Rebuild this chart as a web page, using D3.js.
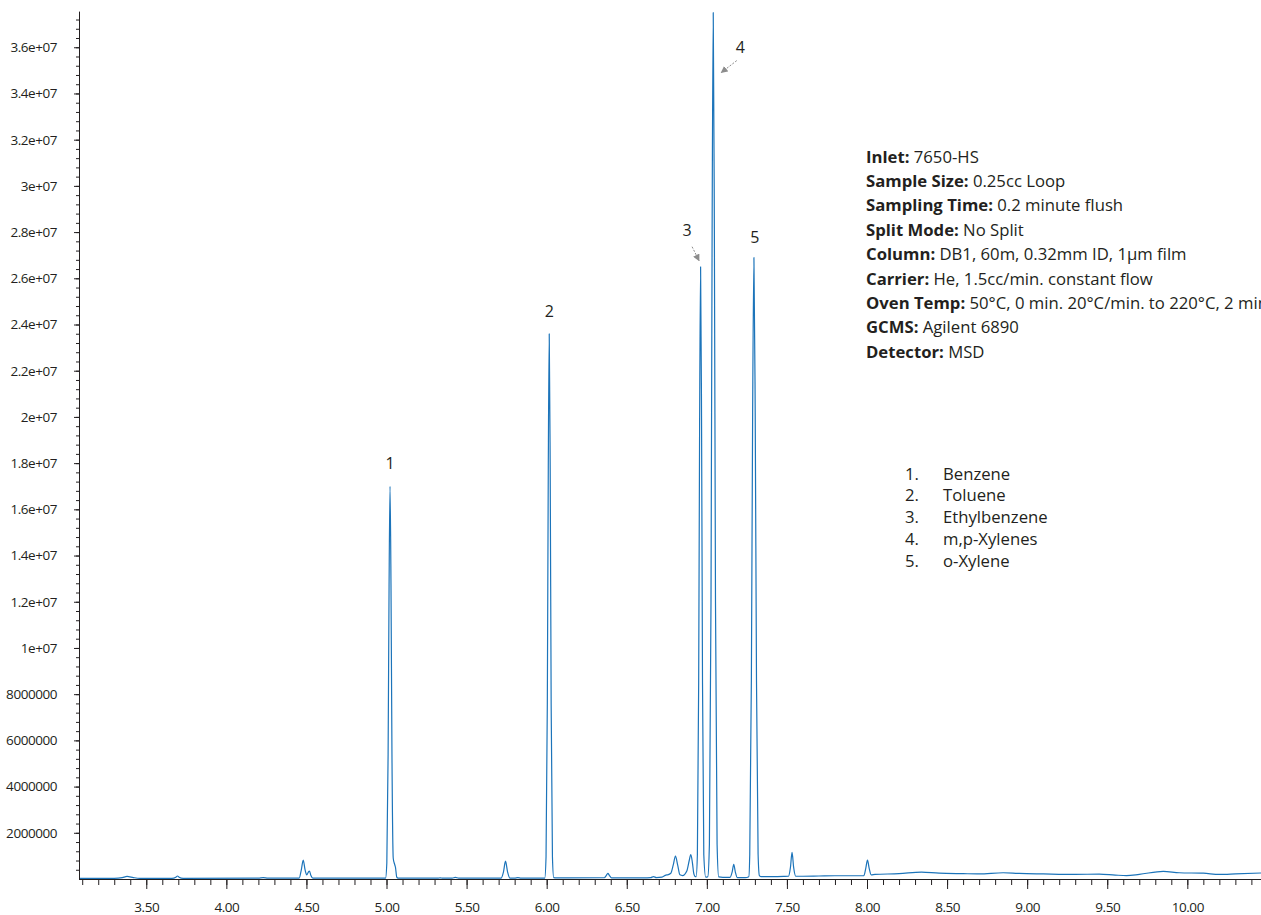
<!DOCTYPE html>
<html>
<head>
<meta charset="utf-8">
<script src="https://cdn.jsdelivr.net/npm/d3@7"></script>
<style>
  html, body { margin: 0; padding: 0; background: #ffffff; }
  svg { display: block; }
  .tick text { font-family: "Open Sans", sans-serif; }
</style>
</head>
<body>
<svg id="chart" width="1261" height="915"></svg>
<script>
// Total ion chromatogram: retention time (min) against abundance (counts)
const traceTime = [
  3.08, 3.30, 3.35, 3.38, 3.42, 3.46, 3.66, 3.685, 3.695, 3.705, 3.73,
  4.20, 4.23, 4.26, 4.455, 4.468, 4.48, 4.492, 4.502, 4.512, 4.519, 4.528, 4.54,
  4.994, 5.002, 5.010, 5.016, 5.022, 5.028, 5.034, 5.042, 5.050, 5.056, 5.064, 5.072,
  5.32, 5.335, 5.35, 5.41, 5.43, 5.45, 5.715, 5.73, 5.743, 5.756, 5.77,
  5.80, 5.82, 5.84,
  5.988, 5.996, 6.004, 6.010, 6.016, 6.022, 6.028, 6.036, 6.044, 6.06,
  6.36, 6.372, 6.382, 6.392, 6.405, 6.45, 6.60, 6.65, 6.667, 6.685, 6.72, 6.745, 6.755,
  6.775, 6.79, 6.804, 6.818, 6.832, 6.848, 6.875, 6.89, 6.90, 6.91, 6.918, 6.925,
  6.933, 6.941, 6.949, 6.955, 6.961, 6.967, 6.973, 6.981, 6.993,
  7.006, 7.016, 7.026, 7.033, 7.040, 7.047, 7.054, 7.064, 7.074, 7.10,
  7.145, 7.158, 7.168, 7.178, 7.19, 7.24, 7.262,
  7.268, 7.278, 7.286, 7.294, 7.302, 7.310, 7.320, 7.328, 7.34,
  7.40, 7.48, 7.51, 7.522, 7.532, 7.542, 7.555, 7.60, 7.70, 7.80, 7.95,
  7.98, 7.992, 8.003, 8.014, 8.026, 8.05, 8.20, 8.34, 8.45, 8.60, 8.70, 8.85, 8.95,
  9.10, 9.30, 9.45, 9.55, 9.62, 9.70, 9.85, 9.95, 10.10, 10.20, 10.30, 10.46
];
const traceAbundance = [
  30000, 30000, 60000, 110000, 60000, 30000, 30000, 80000, 130000, 80000, 30000,
  40000, 60000, 35000, 40000, 400000, 820000, 380000, 180000, 300000, 340000, 150000, 35000,
  35000, 700000, 5400000, 12700000, 17000000, 12700000, 5400000, 900000, 650000, 500000, 80000, 35000,
  35000, 50000, 35000, 35000, 70000, 35000, 35000, 300000, 770000, 300000, 40000,
  40000, 60000, 40000,
  35000, 950000, 7550000, 17700000, 23600000, 17700000, 7550000, 950000, 60000, 50000,
  55000, 150000, 240000, 150000, 50000, 45000, 50000, 60000, 100000, 60000, 80000, 170000, 180000,
  250000, 600000, 990000, 600000, 180000, 150000, 350000, 800000, 1060000, 700000, 250000, 120000,
  100000, 1060000, 8480000, 19900000, 26500000, 19900000, 8480000, 1060000, 80000,
  100000, 1500000, 12000000, 28100000, 37500000, 28100000, 12000000, 1500000, 90000, 70000,
  70000, 300000, 630000, 300000, 60000, 60000, 100000,
  1080000, 8600000, 20200000, 26900000, 20200000, 8600000, 1080000, 150000, 100000,
  100000, 110000, 120000, 500000, 1150000, 500000, 120000, 120000, 130000, 140000, 140000,
  140000, 450000, 820000, 450000, 180000, 200000, 230000, 300000, 250000, 230000, 220000, 270000, 240000,
  220000, 200000, 210000, 170000, 150000, 200000, 330000, 270000, 250000, 200000, 220000, 260000
];

// Numbered peaks
const peakIds = ["1", "2", "3", "4", "5"];
const peakTimes = [5.022, 6.016, 6.961, 7.040, 7.294];
const peakHeights = [17000000, 23600000, 26500000, 37500000, 26900000];
const compoundNames = ["Benzene", "Toluene", "Ethylbenzene", "m,p-Xylenes", "o-Xylene"];

// Axis ticks
const xTickValues = [3.5, 4, 4.5, 5, 5.5, 6, 6.5, 7, 7.5, 8, 8.5, 9, 9.5, 10];
const xTickLabels = ["3.50", "4.00", "4.50", "5.00", "5.50", "6.00", "6.50", "7.00", "7.50", "8.00", "8.50", "9.00", "9.50", "10.00"];
const yTickValues = [2e6, 4e6, 6e6, 8e6, 1e7, 1.2e7, 1.4e7, 1.6e7, 1.8e7, 2e7, 2.2e7, 2.4e7, 2.6e7, 2.8e7, 3e7, 3.2e7, 3.4e7, 3.6e7];
const yTickLabels = ["2000000", "4000000", "6000000", "8000000", "1e+07", "1.2e+07", "1.4e+07", "1.6e+07", "1.8e+07", "2e+07", "2.2e+07", "2.4e+07", "2.6e+07", "2.8e+07", "3e+07", "3.2e+07", "3.4e+07", "3.6e+07"];

// Method conditions
const methodKeys = ["Inlet:", "Sample Size:", "Sampling Time:", "Split Mode:", "Column:", "Carrier:", "Oven Temp:", "GCMS:", "Detector:"];
const methodValues = ["7650-HS", "0.25cc Loop", "0.2 minute flush", "No Split", "DB1, 60m, 0.32mm ID, 1\u00b5m film", "He, 1.5cc/min. constant flow", "50\u00b0C, 0 min. 20\u00b0C/min. to 220\u00b0C, 2 min", "Agilent 6890", "MSD"];

const ink = "#231f20";
const traceColor = "#1c74ba";

const svg = d3.select("#chart");
const plotLeft = 79, plotRight = 1261, plotBottom = 879, plotTop = 12.6;

const x = d3.scaleLinear().domain([3.08, 10.46]).range([plotLeft, plotRight]);
const y = d3.scaleLinear().domain([0, 3.75e7]).range([plotBottom, plotTop]);

// Arrowhead for callouts
svg.append("defs").append("marker")
  .attr("id", "arrowhead")
  .attr("viewBox", "0 0 10 10")
  .attr("refX", 9).attr("refY", 5)
  .attr("markerWidth", 7).attr("markerHeight", 7)
  .attr("markerUnits", "userSpaceOnUse")
  .attr("orient", "auto")
  .append("path")
  .attr("d", "M0,0 L10,5 L0,10 z")
  .attr("fill", "#8c8c8c");

svg.append("clipPath").attr("id", "plotClip")
  .append("rect").attr("x", plotLeft).attr("y", 8)
  .attr("width", plotRight - plotLeft).attr("height", plotBottom - 8);

// Chromatogram trace
const points = traceTime.map((t, i) => [t, traceAbundance[i]]);
const line = d3.line()
  .x(d => x(d[0]))
  .y(d => y(d[1]))
  .curve(d3.curveMonotoneX);

svg.append("path")
  .datum(points)
  .attr("clip-path", "url(#plotClip)")
  .attr("fill", "none")
  .attr("stroke", traceColor)
  .attr("stroke-width", 1.2)
  .attr("stroke-linejoin", "round")
  .attr("d", line);

// X axis: major and minor ticks
const xMinor = svg.append("g")
  .attr("transform", `translate(0,${plotBottom})`)
  .call(d3.axisBottom(x)
    .tickValues(d3.range(31, 105).map(v => v / 10))
    .tickSize(6).tickFormat(""));
xMinor.select(".domain").remove();

const xAxis = svg.append("g")
  .attr("transform", `translate(0,${plotBottom})`)
  .call(d3.axisBottom(x)
    .tickValues(xTickValues)
    .tickFormat((d, i) => xTickLabels[i])
    .tickSize(10).tickPadding(13.5).tickSizeOuter(0));
xAxis.select(".domain").attr("d", `M${plotLeft},0.5H${plotRight}`);

// Y axis: major and minor ticks
const yMinor = svg.append("g")
  .attr("transform", `translate(${plotLeft},0)`)
  .call(d3.axisLeft(y)
    .tickValues(d3.range(1, 94).map(v => v * 4e5))
    .tickSize(3).tickFormat(""));
yMinor.select(".domain").remove();

const yAxis = svg.append("g")
  .attr("transform", `translate(${plotLeft},0)`)
  .call(d3.axisLeft(y)
    .tickValues(yTickValues)
    .tickFormat((d, i) => yTickLabels[i])
    .tickSize(5).tickPadding(17).tickSizeOuter(0));
yAxis.select(".domain").attr("d", `M0.5,${plotBottom}V${plotTop - 1}`);

svg.selectAll(".domain, .tick line").attr("stroke", ink).attr("stroke-width", 1);
svg.selectAll(".tick text")
  .attr("fill", ink)
  .style("font-size", "13.5px")
  .style("letter-spacing", "-0.45px");

// Peak numbers
const labelOffsets = [[0, -23], [0, -22], [-13.5, -36], [27, -35], [1, -20]];
const peakLabels = svg.append("g")
  .attr("font-family", "Open Sans, sans-serif")
  .attr("font-size", 16)
  .attr("fill", ink)
  .attr("text-anchor", "middle");
peakIds.forEach((id, i) => {
  const px = x(peakTimes[i]) + labelOffsets[i][0];
  const py = Math.max(y(peakHeights[i]), plotTop) + labelOffsets[i][1];
  peakLabels.append("text")
    .attr("x", px).attr("y", Math.max(py, 47))
    .attr("dy", "0.35em")
    .text(id);
});

// Callout arrows for the crowded peaks 3 and 4
const callouts = [
  { peak: 2, from: [-8.5, -20], to: [-1.5, -6] },
  { peak: 3, from: [23.5, 48], to: [8, 60] }
];
callouts.forEach(c => {
  const ax = x(peakTimes[c.peak]);
  const ay = c.peak === 3 ? plotTop : y(peakHeights[c.peak]);
  svg.append("line")
    .attr("x1", ax + c.from[0]).attr("y1", ay + c.from[1])
    .attr("x2", ax + c.to[0]).attr("y2", ay + c.to[1])
    .attr("stroke", "#8c8c8c")
    .attr("stroke-width", 1)
    .attr("stroke-dasharray", "2,1.5")
    .attr("marker-end", "url(#arrowhead)");
});

// Method conditions block
const method = svg.append("g")
  .attr("font-family", "Open Sans, sans-serif")
  .attr("font-size", 16.7)
  .attr("fill", ink);
methodKeys.forEach((k, i) => {
  const t = method.append("text")
    .attr("x", 866)
    .attr("y", 162.5 + i * 24.4);
  t.append("tspan").attr("font-weight", 700).text(k);
  t.append("tspan").text(" " + methodValues[i]);
});

// Compound key
const key = svg.append("g")
  .attr("font-family", "Open Sans, sans-serif")
  .attr("font-size", 16.7)
  .attr("fill", ink);
compoundNames.forEach((name, i) => {
  const by = 479.5 + i * 21.75;
  key.append("text").attr("x", 905).attr("y", by).text(peakIds[i] + ".");
  key.append("text").attr("x", 943).attr("y", by).text(name);
});
</script>
</body>
</html>
